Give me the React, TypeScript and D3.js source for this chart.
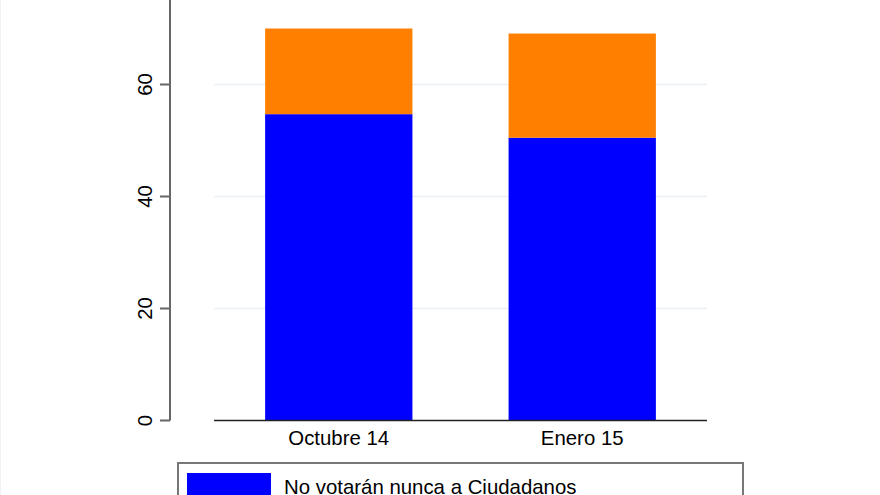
import React from "react";
import * as d3 from "d3";

const categories = ["Octubre 14", "Enero 15"];
const nunca = [54.7, 50.5];
const total = [70.0, 69.1];
const yTicks = [0, 20, 40, 60];
const legendLabels = ["No votarán nunca a Ciudadanos"];
const colors = ["#0000ff", "#ff8000"];

export default function App() {
  const W = 880, H = 495;
  const y = d3.scaleLinear().domain([0, 75]).range([420.5, 0.5]);
  const x = d3.scaleBand().domain(categories).range([214, 707]).paddingInner(0.395).paddingOuter(0.21);
  const font = "'Liberation Sans', Arial, Helvetica, sans-serif";
  const fs = 20.4;
  return (
    <svg width={W} height={H} style={{ position: "absolute", left: 0, top: 0, background: "#fff" }} fontFamily={font}>
      <rect x={0} y={0} width={W} height={H} fill="#fff" />
      <line x1={0.5} y1={0} x2={0.5} y2={H} stroke="#eef3f3" />
      {yTicks.filter(t => t > 0).map(t => (
        <line key={t} x1={214} x2={707} y1={y(t)} y2={y(t)} stroke="#eaf0f3" strokeWidth={1.5} />
      ))}
      {categories.map((c, i) => (
        <g key={c}>
          <rect x={x(c)} width={x.bandwidth()} y={y(nunca[i])} height={y(0) - y(nunca[i])} fill={colors[0]} />
          <rect x={x(c)} width={x.bandwidth()} y={y(total[i])} height={y(nunca[i]) - y(total[i])} fill={colors[1]} />
          <text x={x(c)! + x.bandwidth() / 2} y={445} textAnchor="middle" fontSize={fs} fill="#000">{c}</text>
        </g>
      ))}
      <line x1={214} x2={707} y1={y(0)} y2={y(0)} stroke="#222" strokeWidth={1.5} />
      <line x1={170} x2={170} y1={0} y2={y(0)} stroke="#666" strokeWidth={2} />
      {yTicks.map(t => (
        <g key={t}>
          <line x1={160} x2={170} y1={y(t)} y2={y(t)} stroke="#666" strokeWidth={2} />
          <text transform={`translate(152,${y(t)}) rotate(-90)`} textAnchor="middle" fontSize={fs} fill="#000">{t}</text>
        </g>
      ))}
      <rect x={178} y={463} width={565} height={60} fill="#fff" stroke="#777" strokeWidth={2} />
      <rect x={187} y={473} width={84} height={30} fill={colors[0]} />
      <text x={284} y={494} fontSize={fs} fill="#000">{legendLabels[0]}</text>
    </svg>
  );
}
